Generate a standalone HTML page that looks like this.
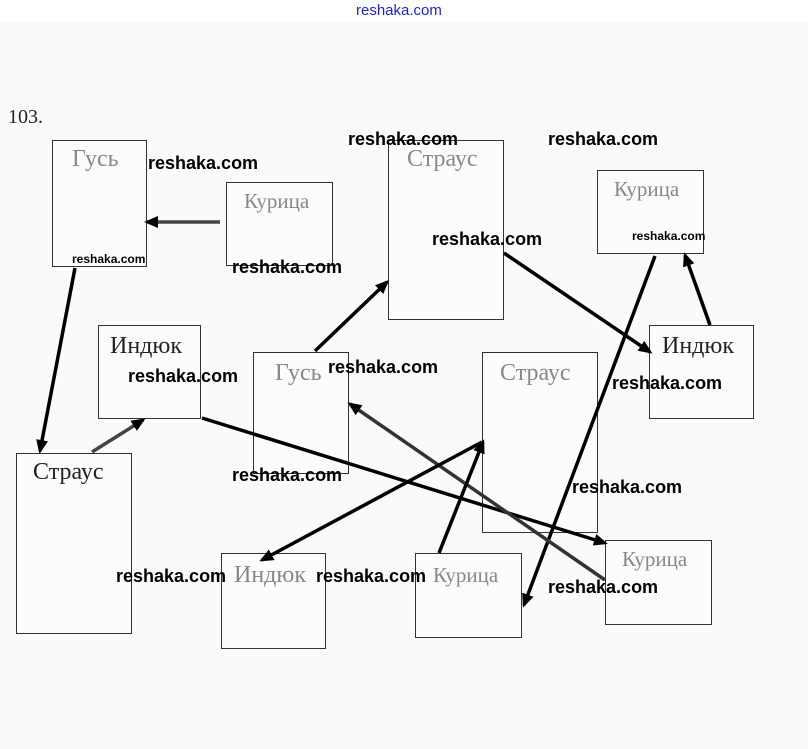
<!DOCTYPE html>
<html><head><meta charset="utf-8"><style>
html,body{margin:0;padding:0}
body{width:808px;height:749px;background:#fafafc;position:relative;overflow:hidden;font-family:"Liberation Serif",serif}
.top{position:absolute;left:0;top:0;width:808px;height:22px;background:#fff}
.b{position:absolute;border:1px solid #333;box-sizing:border-box;background:#fcfcfd}
.t{position:absolute;font-size:24px;color:#222;white-space:nowrap}
.g{color:#888}
.w{position:absolute;font-family:"Liberation Sans",sans-serif;font-weight:bold;font-size:18px;color:#000;white-space:nowrap}
.ws{font-size:12px}
</style></head><body>
<div class="top"></div>
<div style="position:absolute;left:356px;top:2px;font-family:'Liberation Sans',sans-serif;font-size:15px;color:#2222cc">reshaka.com</div>
<div class="t" style="left:8px;top:106px;font-size:20px">103.</div>

<div class="b" style="left:52px;top:140px;width:95px;height:127px"></div>
<div class="b" style="left:226px;top:182px;width:107px;height:84px"></div>
<div class="b" style="left:388px;top:140px;width:116px;height:180px"></div>
<div class="b" style="left:597px;top:170px;width:107px;height:84px"></div>
<div class="b" style="left:98px;top:325px;width:103px;height:94px"></div>
<div class="b" style="left:253px;top:352px;width:96px;height:122px"></div>
<div class="b" style="left:482px;top:352px;width:116px;height:181px"></div>
<div class="b" style="left:649px;top:325px;width:105px;height:94px"></div>
<div class="b" style="left:16px;top:453px;width:116px;height:181px"></div>
<div class="b" style="left:221px;top:553px;width:105px;height:96px"></div>
<div class="b" style="left:415px;top:553px;width:107px;height:85px"></div>
<div class="b" style="left:605px;top:540px;width:107px;height:85px"></div>

<div class="t g" style="left:72px;top:146px">Гусь</div>
<div class="t g" style="left:244px;top:189px;font-size:21px">Курица</div>
<div class="t g" style="left:407px;top:146px">Страус</div>
<div class="t g" style="left:614px;top:177px;font-size:21px">Курица</div>
<div class="t" style="left:110px;top:333px">Индюк</div>
<div class="t g" style="left:275px;top:360px">Гусь</div>
<div class="t g" style="left:500px;top:360px">Страус</div>
<div class="t" style="left:662px;top:333px">Индюк</div>
<div class="t" style="left:33px;top:459px">Страус</div>
<div class="t g" style="left:234px;top:562px">Индюк</div>
<div class="t g" style="left:433px;top:563px;font-size:21px">Курица</div>
<div class="t g" style="left:622px;top:547px;font-size:21px">Курица</div>

<svg width="808" height="749" style="position:absolute;left:0;top:0">
<defs><marker id="a" markerWidth="14" markerHeight="12" refX="11" refY="6" orient="auto" markerUnits="userSpaceOnUse"><path d="M0,0 L14,6 L0,12 Z" fill="#000"/></marker></defs>
<g stroke="#000" stroke-width="3.5" fill="none" marker-end="url(#a)">
<line x1="220" y1="222" x2="147" y2="222" stroke="#444"/>
<line x1="75" y1="268" x2="40" y2="451"/>
<line x1="92" y1="452" x2="143" y2="420" stroke="#444"/>
<line x1="315" y1="351" x2="387" y2="282"/>
<line x1="504" y1="253" x2="650" y2="352"/>
<line x1="710" y1="325" x2="685" y2="255"/>
<line x1="655" y1="256" x2="524" y2="605"/>
<line x1="202" y1="418" x2="605" y2="543"/>
<line x1="605" y1="580" x2="350" y2="404" stroke="#333"/>
<line x1="482" y1="442" x2="262" y2="560"/>
<line x1="439" y1="553" x2="483" y2="442"/>
</g></svg>

<div class="w" style="left:348px;top:129px">reshaka.com</div>
<div class="w" style="left:548px;top:129px">reshaka.com</div>
<div class="w" style="left:148px;top:153px">reshaka.com</div>
<div class="w" style="left:432px;top:229px">reshaka.com</div>
<div class="w ws" style="left:632px;top:229px">reshaka.com</div>
<div class="w ws" style="left:72px;top:252px">reshaka.com</div>
<div class="w" style="left:232px;top:257px">reshaka.com</div>
<div class="w" style="left:128px;top:366px">reshaka.com</div>
<div class="w" style="left:328px;top:357px">reshaka.com</div>
<div class="w" style="left:612px;top:373px">reshaka.com</div>
<div class="w" style="left:232px;top:465px">reshaka.com</div>
<div class="w" style="left:572px;top:477px">reshaka.com</div>
<div class="w" style="left:116px;top:566px">reshaka.com</div>
<div class="w" style="left:316px;top:566px">reshaka.com</div>
<div class="w" style="left:548px;top:577px">reshaka.com</div>
</body></html>
